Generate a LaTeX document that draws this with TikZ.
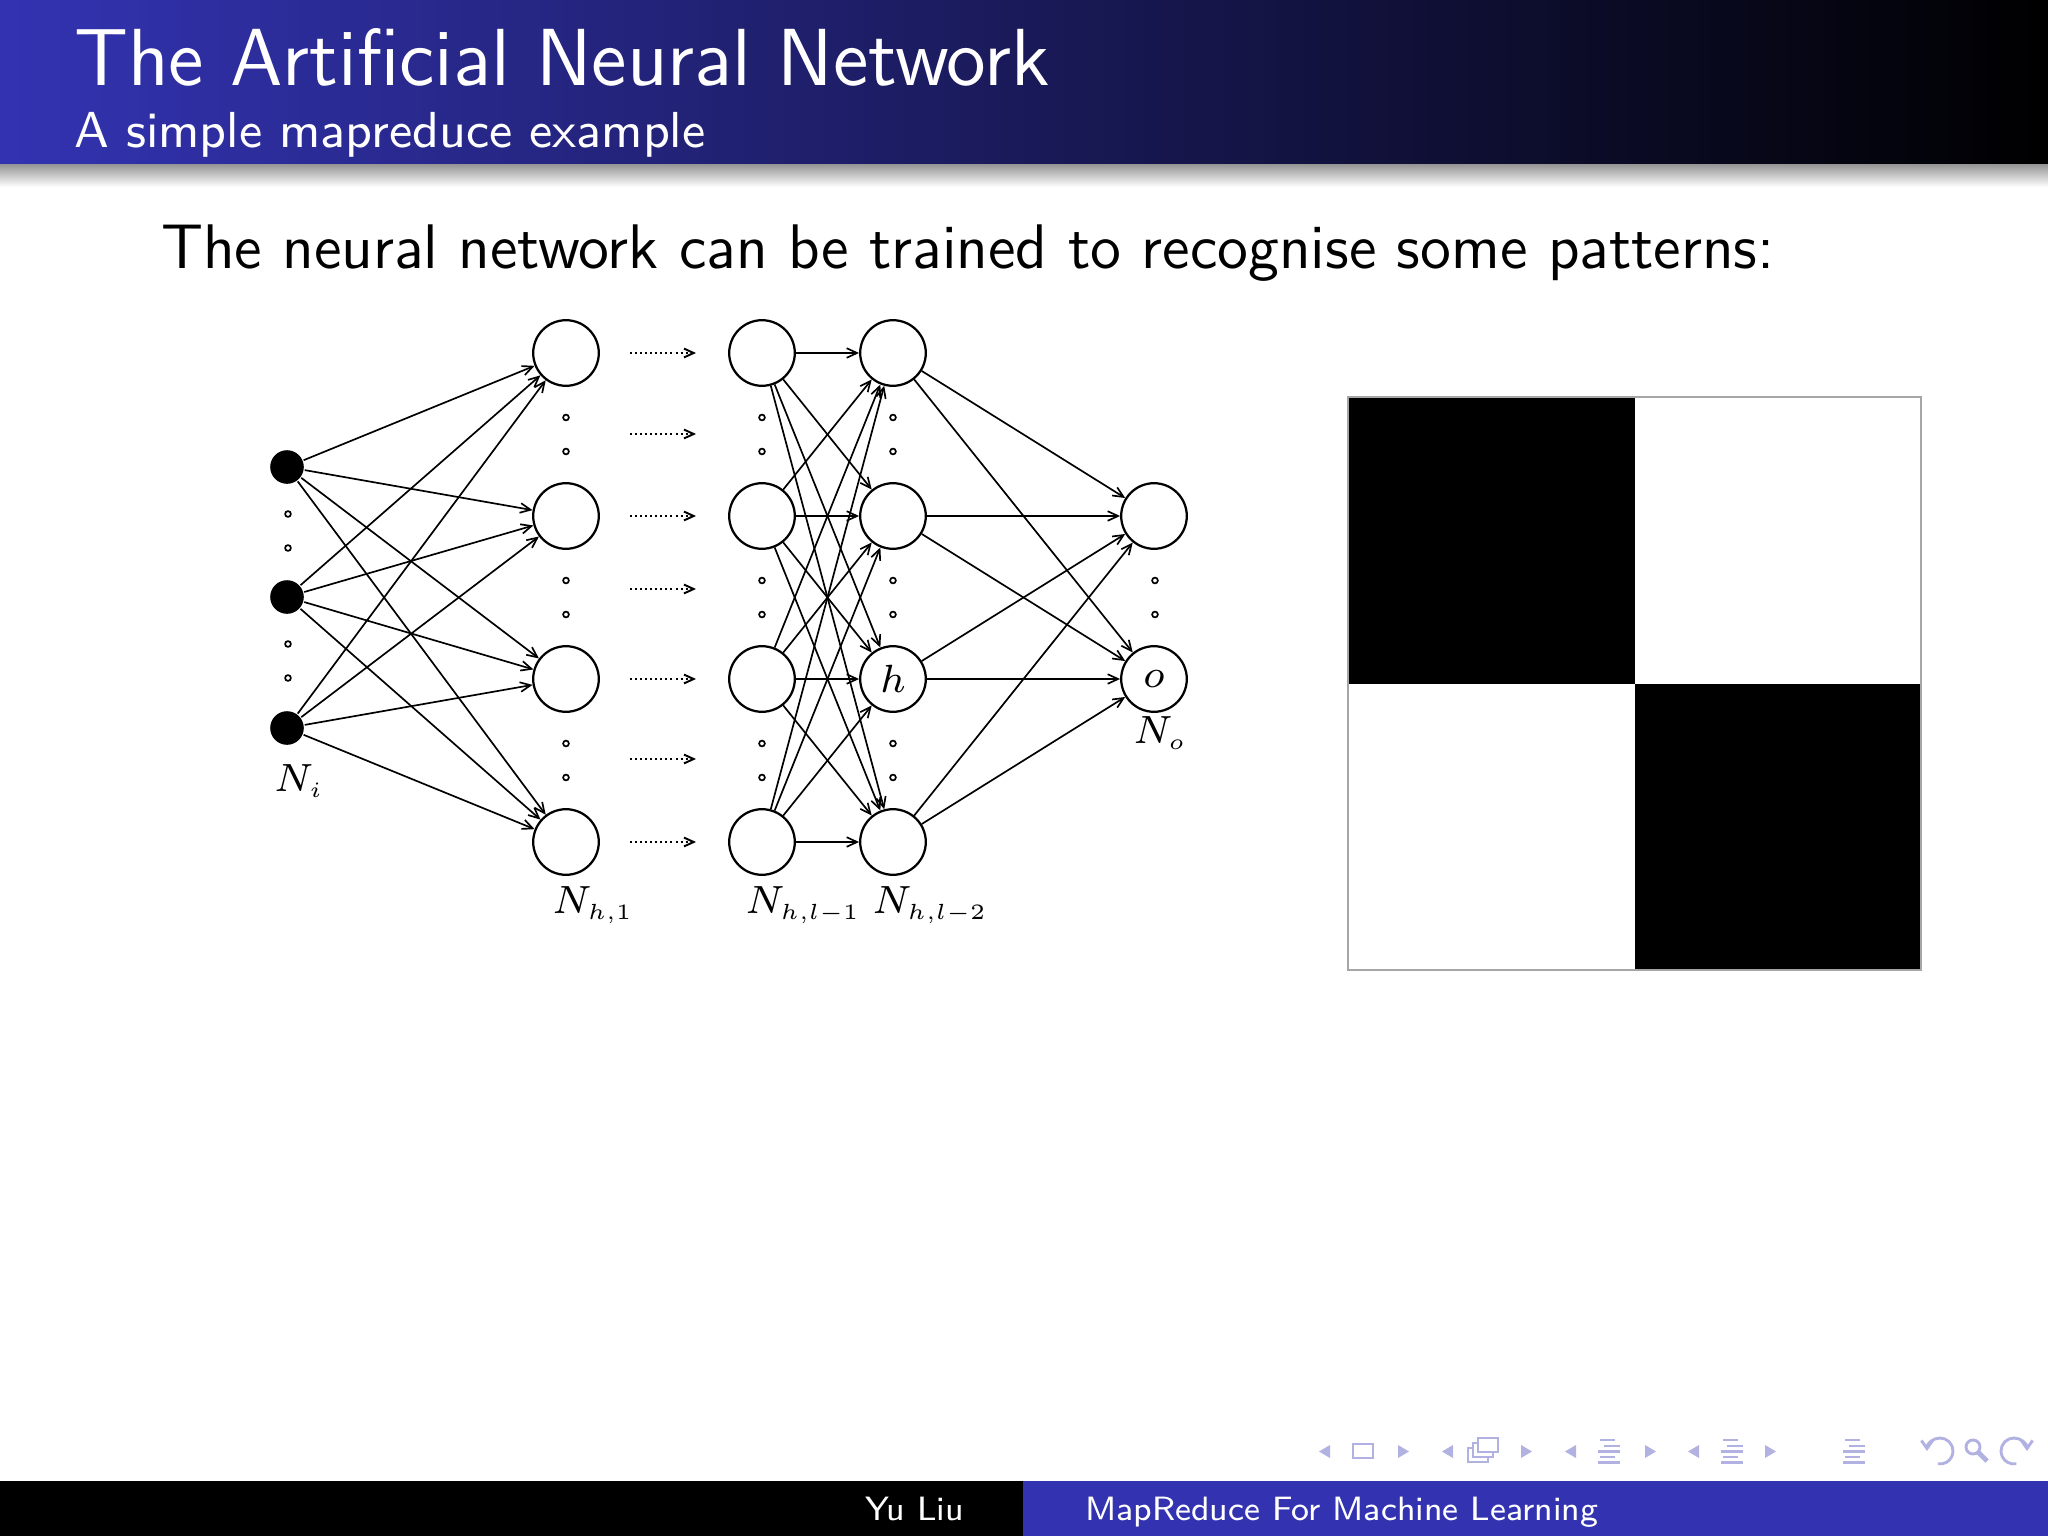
\documentclass[tikz,border=0pt]{standalone}
\usepackage{amsmath}
\usepackage{tikz}
\usetikzlibrary{arrows.meta,positioning,calc}
\definecolor{slideblue}{rgb}{0.2,0.2,0.7}
\colorlet{navcol}{slideblue!38}
\newcommand{\nlabel}[1]{$N_{\scalebox{0.78}{$\scriptstyle #1$}}$}
% beamer navigation glyphs, x = left edge
\newcommand{\navleft}[1]{\fill[navcol] (#1,1451.5) -- ++(11,-6.5) -- ++(0,13) -- cycle;}
\newcommand{\navright}[1]{\fill[navcol] (#1,1445) -- ++(11,6.5) -- ++(-11,6.5) -- cycle;}
\newcommand{\navlines}[1]{%
  \foreach \dy/\wa/\wb in {0/2/17,6/6/22,11.5/0/22,17/2/17,22.5/0/22}
    \fill[navcol] ({#1+\wa},{1438.5+\dy}) rectangle ({#1+\wb},{1441+\dy});}

\begin{document}
\begin{tikzpicture}[x=0.0625mm,y=-0.0625mm,>=Latex,
  neuron/.style={circle,draw,line width=0.4pt,minimum size=4.1mm,inner sep=0pt,
    font=\fontsize{7}{8}\selectfont},
  inneuron/.style={circle,fill=black,minimum size=2.1mm,inner sep=0pt},
  vdot/.style={circle,draw,line width=0.3pt,minimum size=0.36mm,inner sep=0pt},
  wire/.style={-{Straight Barb[length=0.65mm,width=0.6mm]},line width=0.3pt},
  skipwire/.style={-{Straight Barb[length=0.6mm,width=0.55mm]},line width=0.35pt,
    dash pattern=on 0.35pt off 0.55pt},
  lbl/.style={font=\fontsize{6.8}{8}\selectfont,inner sep=0pt},
  slidetext/.style={font=\sffamily,inner sep=0pt}]
  \useasboundingbox (0,0) rectangle (2048,1536);
  \fill[white] (0,0) rectangle (2048,1536);

  % head and foot of the slide
  \shade[left color=slideblue,right color=black] (0,0) rectangle (2048,164);
  \shade[top color=black!42,bottom color=white] (0,164) rectangle (2048,187);
  \node[slidetext,anchor=base west,text=white,font=\sffamily\fontsize{14.4}{17}\selectfont]
    (title) at (73,85) {The Artificial Neural Network};
  \node[slidetext,anchor=base west,text=white,font=\sffamily\fontsize{9}{11}\selectfont]
    (subtitle) at (73,148) {A simple mapreduce example};
  \fill[black] (0,1481) rectangle (1023,1536);
  \fill[slideblue] (1023,1481) rectangle (2048,1536);
  \node[slidetext,anchor=base east,text=white,font=\sffamily\fontsize{6}{7}\selectfont]
    (author) at (965,1520) {Yu Liu};
  \node[slidetext,anchor=base west,text=white,font=\sffamily\fontsize{6}{7}\selectfont]
    (talk) at (1084,1520) {MapReduce For Machine Learning};

  \node[slidetext,anchor=base west,font=\sffamily\fontsize{11.2}{13}\selectfont]
    (intro) at (160,268) {The neural network can be trained to recognise some patterns:};

  % network
  \foreach \k/\y in {1/467,2/597,3/728}
    \node[inneuron] (i\k) at (287,\y) {};
  \foreach \j/\y/\t in {1/353/{},2/516/{},3/679/$h$,4/842/{}} {
    \node[neuron] (a\j) at (566,\y) {};
    \node[neuron] (b\j) at (762,\y) {};
    \node[neuron] (c\j) at (893,\y) {\t};
  }
  \node[neuron] (o1) at (1154,516) {};
  \node[neuron] (o2) at (1154,679) {$o$};

  \foreach \x/\y [count=\n] in {288/514,288/548,288/644,288/678,
      566/417.5,566/451.5,566/580.5,566/614.5,566/743.5,566/777.5,
      762/417.5,762/451.5,762/580.5,762/614.5,762/743.5,762/777.5,
      893/417.5,893/451.5,893/580.5,893/614.5,893/743.5,893/777.5,
      1155/580.5,1155/614.5}
    \node[vdot] (d\n) at (\x,\y) {};

  \foreach \k in {1,2,3}
    \foreach \j in {1,...,4}
      \draw[wire] (i\k) -- (a\j);
  \foreach \k in {1,...,4}
    \foreach \j in {1,...,4}
      \draw[wire] (b\k) -- (c\j);
  \foreach \k in {1,...,4}
    \foreach \j in {1,2}
      \draw[wire] (c\k) -- (o\j);

  \foreach \y [count=\n] in {353,434,516,589,679,759,842} {
    \coordinate (s\n) at (630,\y);
    \coordinate (t\n) at (696,\y);
    \draw[skipwire] (s\n) -- (t\n);
  }

  \node[lbl] (Ni) at (299,781) {\nlabel{i}};
  \node[lbl] (Nh1) at (593,905) {\nlabel{h,1}};
  \node[lbl] (Nhl1) at (803,905) {\nlabel{h,l-1}};
  \node[lbl] (Nhl2) at (930,905) {\nlabel{h,l-2}};
  \node[lbl] (No) at (1160,733) {\nlabel{o}};

  % pattern
  \fill[black] (1348,397) rectangle (1634.5,683.5);
  \fill[black] (1634.5,683.5) rectangle (1921,970);
  \draw[gray!70,line width=0.2pt] (1348,397) rectangle (1921,970);

  % navigation symbols
  \navleft{1319} \draw[navcol,line width=0.18mm] (1353,1444) rectangle (1373,1458); \navright{1398}
  \navleft{1442}
  \foreach \o in {0,5,10}
    \draw[navcol,line width=0.18mm,fill=white] ({1468+\o},{1448-\o}) rectangle ({1488+\o},{1462-\o});
  \navright{1521}
  \navleft{1565} \navlines{1598} \navright{1645}
  \navleft{1688} \navlines{1721} \navright{1765}
  \navlines{1843}
  \draw[navcol,line width=0.18mm,{Straight Barb[length=0.5mm,width=0.7mm]}-]
    (1927,1451) arc[start angle=180,end angle=460,radius=13];
  \draw[navcol,line width=0.18mm] (1973,1447) circle[radius=7];
  \draw[navcol,line width=0.3mm] (1978,1452) -- (1987,1461);
  \draw[navcol,line width=0.18mm,{Straight Barb[length=0.5mm,width=0.7mm]}-]
    (2027,1451) arc[start angle=0,end angle=-280,radius=13];
\end{tikzpicture}
\end{document}
